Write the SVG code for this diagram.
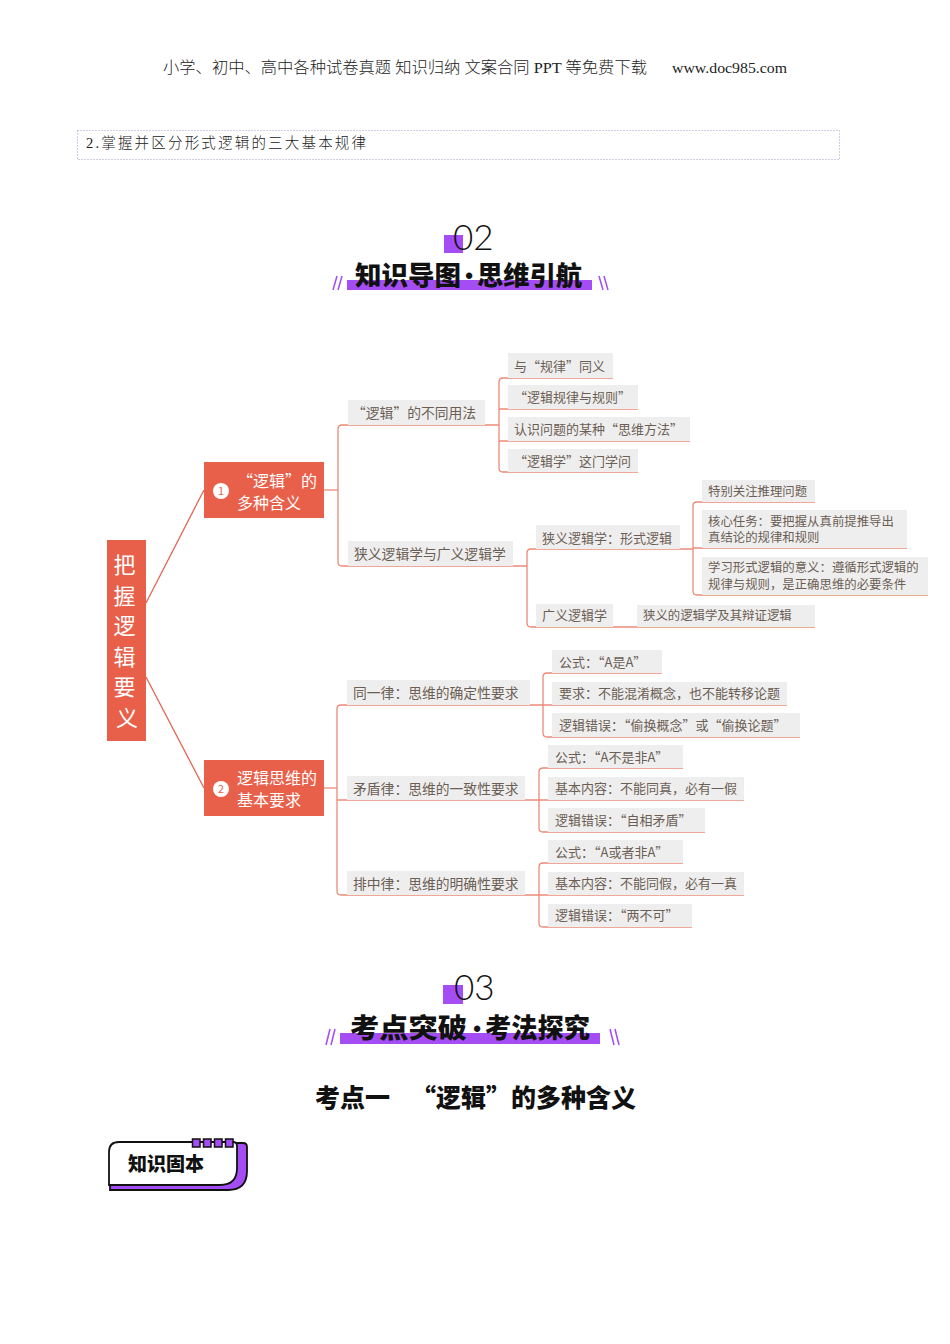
<svg xmlns="http://www.w3.org/2000/svg" width="950" height="1344" viewBox="0 0 950 1344">
<style>
.serif{font-family:"Liberation Serif","Noto Sans CJK SC",serif;fill:#222;font-weight:300}
.cjk{font-family:"Noto Sans CJK SC",sans-serif}
.conn{fill:none;stroke:#EC8A77;stroke-width:1.3}
.rootlink{fill:none;stroke:#E26650;stroke-width:1.3}
.box{fill:#EFEEEE}
.red{fill:#E9604A}
.t{font-family:"Noto Sans CJK SC",sans-serif;fill:#6B5E55}
.t2{font-size:13.8px}
.t3{font-size:13px}
.t4{font-size:12.4px}
.w{font-family:"Noto Sans CJK SC",sans-serif;fill:#fff;font-size:16px}
.purple{fill:#A54DF5}
.slash{stroke:#A54DF5;stroke-width:1.5}
.title{font-family:"Noto Sans CJK SC",sans-serif;font-weight:900;fill:#111}
.dot{font-family:"Liberation Sans",sans-serif;font-weight:700;fill:#111;font-size:22px}
.num{font-family:"Lato","DejaVu Sans",sans-serif;font-weight:300;fill:#111;font-size:35px}
</style>

<g id="header">
  <text class="serif" x="163" y="73" font-size="15.5" textLength="484" lengthAdjust="spacingAndGlyphs">小学、初中、高中各种试卷真题 知识归纳 文案合同 PPT 等免费下载</text>
  <text class="serif" x="672" y="73" font-size="15.5" textLength="115" lengthAdjust="spacingAndGlyphs">www.doc985.com</text>
</g>

<g id="objective">
  <rect x="77.5" y="130.5" width="762" height="29" fill="none" stroke="#A898CC" stroke-width="1" stroke-dasharray="1 2"/>
  <text class="serif" x="86" y="148" font-size="14.5" textLength="280" lengthAdjust="spacing">2.掌握并区分形式逻辑的三大基本规律</text>
</g>

<g id="section02">
  <rect class="purple" x="444" y="235" width="19" height="18"/>
  <text class="num" x="453" y="250">02</text>
  <rect class="purple" x="347" y="280" width="245" height="10"/>
  <text class="title" x="355" y="285" font-size="26" textLength="106" lengthAdjust="spacingAndGlyphs">知识导图</text>
  <text class="dot" x="469" y="283" text-anchor="middle">•</text>
  <text class="title" x="477" y="285" font-size="26" textLength="105" lengthAdjust="spacingAndGlyphs">思维引航</text>
  <line class="slash" x1="333" y1="290" x2="337" y2="276"/>
  <line class="slash" x1="338" y1="290" x2="342" y2="276"/>
  <line class="slash" x1="599" y1="276" x2="603" y2="290"/>
  <line class="slash" x1="604" y1="276" x2="608" y2="290"/>
</g>

<g id="connectors">
  <line class="rootlink" x1="146" y1="603" x2="204" y2="490"/>
  <line class="rootlink" x1="146" y1="677" x2="204" y2="788"/>
  <path class="conn" d="M324,490 H338"/>
  <path class="conn" d="M499,425 H342 Q338,425 338,429 V562 Q338,566 342,566 H527"/>
  <path class="conn" d="M613,378 H503 Q499,378 499,382 V468 Q499,472 503,472 H638"/>
  <path class="conn" d="M499,409 H638"/>
  <path class="conn" d="M499,441 H690"/>
  <path class="conn" d="M693,549 H531 Q527,549 527,553 V623 Q527,627 531,627 H815"/>
  <path class="conn" d="M815,502 H697 Q693,502 693,506 V591 Q693,595 697,595 H928"/>
  <path class="conn" d="M693,548 H907"/>
  <path class="conn" d="M324,788 H337"/>
  <path class="conn" d="M543,705 H341 Q337,705 337,709 V891 Q337,895 341,895 H539"/>
  <path class="conn" d="M337,800 H539"/>
  <path class="conn" d="M662,673 H547 Q543,673 543,677 V733 Q543,737 547,737 H800"/>
  <path class="conn" d="M543,705 H787"/>
  <path class="conn" d="M683,768 H543 Q539,768 539,772 V828 Q539,832 543,832 H705"/>
  <path class="conn" d="M539,800 H744"/>
  <path class="conn" d="M683,863 H543 Q539,863 539,867 V923 Q539,927 543,927 H692"/>
  <path class="conn" d="M539,895 H744"/>
</g>

<g id="root">
  <rect class="red" x="107" y="540" width="39" height="201"/>
  <text class="cjk" fill="#fff" font-size="22" text-anchor="middle">
    <tspan x="127" y="573">把</tspan>
    <tspan x="127" y="603.5">握</tspan>
    <tspan x="127" y="634">逻</tspan>
    <tspan x="127" y="664.5">辑</tspan>
    <tspan x="127" y="695">要</tspan>
    <tspan x="127" y="725.5">义</tspan>
  </text>
</g>

<g id="n1">
  <rect class="red" x="204" y="462" width="120" height="56"/>
  <circle cx="221" cy="491" r="8" fill="#fff"/>
  <text class="cjk" x="221" y="495" font-size="11" fill="#E9604A" text-anchor="middle">1</text>
  <text class="w" x="237" y="487">“逻辑”的</text>
  <text class="w" x="237" y="509">多种含义</text>
</g>

<g id="n2">
  <rect class="red" x="204" y="760" width="120" height="56"/>
  <circle cx="221" cy="789" r="8" fill="#fff"/>
  <text class="cjk" x="221" y="793" font-size="11" fill="#E9604A" text-anchor="middle">2</text>
  <text class="w" x="237" y="784">逻辑思维的</text>
  <text class="w" x="237" y="806">基本要求</text>
</g>

<g id="nA"><rect class="box" x="348" y="400" width="137" height="25"/><text class="t t2" x="352" y="418">“逻辑”的不同用法</text></g>
<g id="nB"><rect class="box" x="348" y="541" width="165" height="25"/><text class="t t2" x="354" y="559">狭义逻辑学与广义逻辑学</text></g>

<g id="a1"><rect class="box" x="508" y="353" width="105" height="25"/><text class="t t3" x="514" y="371">与“规律”同义</text></g>
<g id="a2"><rect class="box" x="508" y="385" width="130" height="24"/><text class="t t3" x="514" y="402">“逻辑规律与规则”</text></g>
<g id="a3"><rect class="box" x="508" y="417" width="182" height="24"/><text class="t t3" x="514" y="434">认识问题的某种“思维方法”</text></g>
<g id="a4"><rect class="box" x="508" y="449" width="130" height="23"/><text class="t t3" x="514" y="466">“逻辑学”这门学问</text></g>

<g id="b1"><rect class="box" x="536" y="525" width="144" height="24"/><text class="t t3" x="542" y="543">狭义逻辑学：形式逻辑</text></g>
<g id="b2"><rect class="box" x="536" y="604" width="77" height="23"/><text class="t t3" x="542" y="620">广义逻辑学</text></g>
<g id="b3"><rect class="box" x="637" y="605" width="178" height="22"/><text class="t t4" x="643" y="620">狭义的逻辑学及其辩证逻辑</text></g>

<g id="c1"><rect class="box" x="702" y="480" width="113" height="22"/><text class="t t4" x="708" y="496">特别关注推理问题</text></g>
<g id="c2"><rect class="box" x="702" y="510" width="205" height="38"/><text class="t t4"><tspan x="708" y="526">核心任务：要把握从真前提推导出</tspan><tspan x="708" y="542">真结论的规律和规则</tspan></text></g>
<g id="c3"><rect class="box" x="702" y="557" width="226" height="38"/><text class="t t4"><tspan x="708" y="572">学习形式逻辑的意义：遵循形式逻辑的</tspan><tspan x="708" y="589">规律与规则，是正确思维的必要条件</tspan></text></g>

<g id="d1"><rect class="box" x="347" y="680" width="183" height="25"/><text class="t t2" x="353" y="698">同一律：思维的确定性要求</text></g>
<g id="d2"><rect class="box" x="347" y="776" width="178" height="24"/><text class="t t2" x="353" y="794">矛盾律：思维的一致性要求</text></g>
<g id="d3"><rect class="box" x="347" y="871" width="178" height="24"/><text class="t t2" x="353" y="889">排中律：思维的明确性要求</text></g>

<g id="e1"><rect class="box" x="552" y="650" width="110" height="23"/><text class="t t3" x="559" y="667">公式：“A是A”</text></g>
<g id="e2"><rect class="box" x="552" y="682" width="235" height="23"/><text class="t t3" x="559" y="698">要求：不能混淆概念，也不能转移论题</text></g>
<g id="e3"><rect class="box" x="552" y="713" width="248" height="24"/><text class="t t3" x="559" y="730">逻辑错误：“偷换概念”或“偷换论题”</text></g>

<g id="f1"><rect class="box" x="548" y="745" width="135" height="23"/><text class="t t3" x="555" y="762">公式：“A不是非A”</text></g>
<g id="f2"><rect class="box" x="548" y="777" width="196" height="23"/><text class="t t3" x="555" y="793">基本内容：不能同真，必有一假</text></g>
<g id="f3"><rect class="box" x="548" y="808" width="157" height="24"/><text class="t t3" x="555" y="825">逻辑错误：“自相矛盾”</text></g>

<g id="g1"><rect class="box" x="548" y="840" width="135" height="23"/><text class="t t3" x="555" y="857">公式：“A或者非A”</text></g>
<g id="g2"><rect class="box" x="548" y="872" width="196" height="23"/><text class="t t3" x="555" y="888">基本内容：不能同假，必有一真</text></g>
<g id="g3"><rect class="box" x="548" y="904" width="144" height="23"/><text class="t t3" x="555" y="920">逻辑错误：“两不可”</text></g>

<g id="section03">
  <rect class="purple" x="443" y="985" width="20" height="19"/>
  <text class="num" x="454" y="1000">03</text>
  <rect class="purple" x="340" y="1033" width="260" height="11"/>
  <text class="title" x="350" y="1038" font-size="27" textLength="117" lengthAdjust="spacingAndGlyphs">考点突破</text>
  <text class="dot" x="477" y="1036" text-anchor="middle">•</text>
  <text class="title" x="485" y="1038" font-size="27" textLength="105" lengthAdjust="spacingAndGlyphs">考法探究</text>
  <line class="slash" x1="326" y1="1045" x2="330" y2="1029"/>
  <line class="slash" x1="331" y1="1045" x2="335" y2="1029"/>
  <line class="slash" x1="610" y1="1029" x2="614" y2="1045"/>
  <line class="slash" x1="615" y1="1029" x2="619" y2="1045"/>
</g>

<g id="kaodian">
  <text class="title" x="315" y="1107" font-size="25" font-weight="700">考点一</text>
  <text class="title" x="636" y="1107" font-size="25" font-weight="700" text-anchor="end">“逻辑”的多种含义</text>
</g>

<g id="badge">
  <path d="M110,1165 V1190 H228 Q247,1190 247,1171 V1147 Q247,1143 243,1143 H200 V1165 Z" fill="#A54DF5" stroke="#111" stroke-width="1.8"/>
  <path d="M119,1142 H233 Q237,1142 237,1146 V1168 Q237,1185 220,1185 H109 V1152 Q109,1142 119,1142 Z" fill="#fff" stroke="#111" stroke-width="1.8"/>
  <rect x="192.5" y="1139" width="7.5" height="8" fill="#A54DF5" stroke="#111" stroke-width="1.5"/>
  <rect x="203.5" y="1139" width="7.5" height="8" fill="#A54DF5" stroke="#111" stroke-width="1.5"/>
  <rect x="214.5" y="1139" width="7.5" height="8" fill="#A54DF5" stroke="#111" stroke-width="1.5"/>
  <rect x="225.5" y="1139" width="7.5" height="8" fill="#A54DF5" stroke="#111" stroke-width="1.5"/>
  <text class="title" x="128" y="1171" font-size="19" font-weight="700">知识固本</text>
</g>
</svg>
